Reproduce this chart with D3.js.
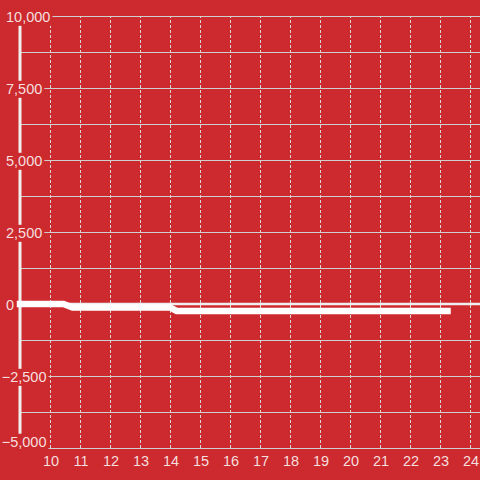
<!DOCTYPE html>
<html>
<head>
<meta charset="utf-8">
<script src="https://cdn.jsdelivr.net/npm/d3@7"></script>
<style>
  html, body { margin: 0; padding: 0; background: #cc2a2e; }
  svg { display: block; }
  text { font-family: "Liberation Sans", Arial, sans-serif; }
</style>
</head>
<body>
<svg id="chart" width="480" height="480"></svg>
<script>
// ---- data ----
const xTickValues = [10, 11, 12, 13, 14, 15, 16, 17, 18, 19, 20, 21, 22, 23, 24];
const yTickValues = [-5000, -2500, 0, 2500, 5000, 7500, 10000];
const yGridValues = [-5000, -3750, -2500, -1250, 0, 1250, 2500, 3750, 5000, 6250, 7500, 8750, 10000];
const seriesX = [9, 10.45, 10.75, 14, 14.22, 23.25];
const seriesY = [0, 0, -120, -120, -240, -240];
const baselineX = [9, 24.34];
const baselineY = [0, 0];

// ---- layout ----
const W = 480, H = 480;
const pLeft = 20, pRight = 480, pTop = 16, pBottom = 448;
const svg = d3.select("#chart");

svg.append("rect").attr("width", W).attr("height", H).attr("fill", "#cc2a2e");

const x = d3.scaleLinear().domain([9, 9 + (pRight - pLeft) / 30]).range([pLeft, pRight]);
const y = d3.scaleLinear().domain([-5000, 10000]).range([pBottom, pTop]);

// horizontal grid
svg.append("g")
  .attr("transform", `translate(${pLeft},0)`)
  .call(d3.axisLeft(y).tickValues(yGridValues).tickSize(-(pRight - pLeft)).tickFormat(""))
  .call(g => g.select(".domain").remove())
  .call(g => g.selectAll("line").attr("stroke", "#cfcfcf").attr("stroke-width", 1));

// vertical dashed grid
svg.append("g")
  .attr("transform", `translate(0,${pBottom})`)
  .call(d3.axisBottom(x).tickValues(xTickValues).tickSize(-(pBottom - pTop)).tickFormat(""))
  .call(g => g.select(".domain").remove())
  .call(g => g.selectAll("line").attr("stroke", "#d8d8d8").attr("stroke-width", 1).attr("stroke-dasharray", "3,2"));

// y axis bar
svg.append("line")
  .attr("x1", pLeft).attr("x2", pLeft).attr("y1", pTop).attr("y2", pBottom)
  .attr("stroke", "#efefef").attr("stroke-width", 3);

// y labels with background
const fmt = d3.format(",");
const ylab = svg.append("g").selectAll("g").data(yTickValues).join("g")
  .attr("transform", d => `translate(6,${y(d) + (d === -5000 ? -6.5 : 0.6)})`);
ylab.append("text")
  .attr("x", d => d < 0 ? -4.3 : 0)
  .attr("dy", "0.36em")
  .attr("font-size", 14.5)
  .attr("fill", "#f5dfdf")
  .text(d => fmt(d));
ylab.each(function() {
  const t = d3.select(this).select("text");
  const b = t.node().getBBox();
  d3.select(this).insert("rect", "text")
    .attr("x", b.x - 2).attr("y", b.y)
    .attr("width", b.width + 4).attr("height", b.height + 1)
    .attr("fill", "#cc2a2e");
});

// x labels
svg.append("g").selectAll("text").data(xTickValues).join("text")
  .attr("x", d => x(d) + 1)
  .attr("y", 465.5)
  .attr("text-anchor", "middle")
  .attr("font-size", 14.5)
  .attr("fill", "#f5dfdf")
  .text(d => d);

// lines
const line = d3.line().x(d => x(d[0])).y(d => y(d[1]));
svg.append("path")
  .datum(baselineX.map((v, i) => [v, baselineY[i]]))
  .attr("d", line)
  .attr("fill", "none")
  .attr("stroke", "#eeeeee")
  .attr("stroke-width", 2.5)
  .attr("stroke-linecap", "square");

svg.append("path")
  .datum(seriesX.map((v, i) => [v, seriesY[i]]))
  .attr("d", line)
  .attr("fill", "none")
  .attr("stroke", "#ffffff")
  .attr("stroke-width", 6.5)
  .attr("stroke-linecap", "square");
</script>
</body>
</html>
